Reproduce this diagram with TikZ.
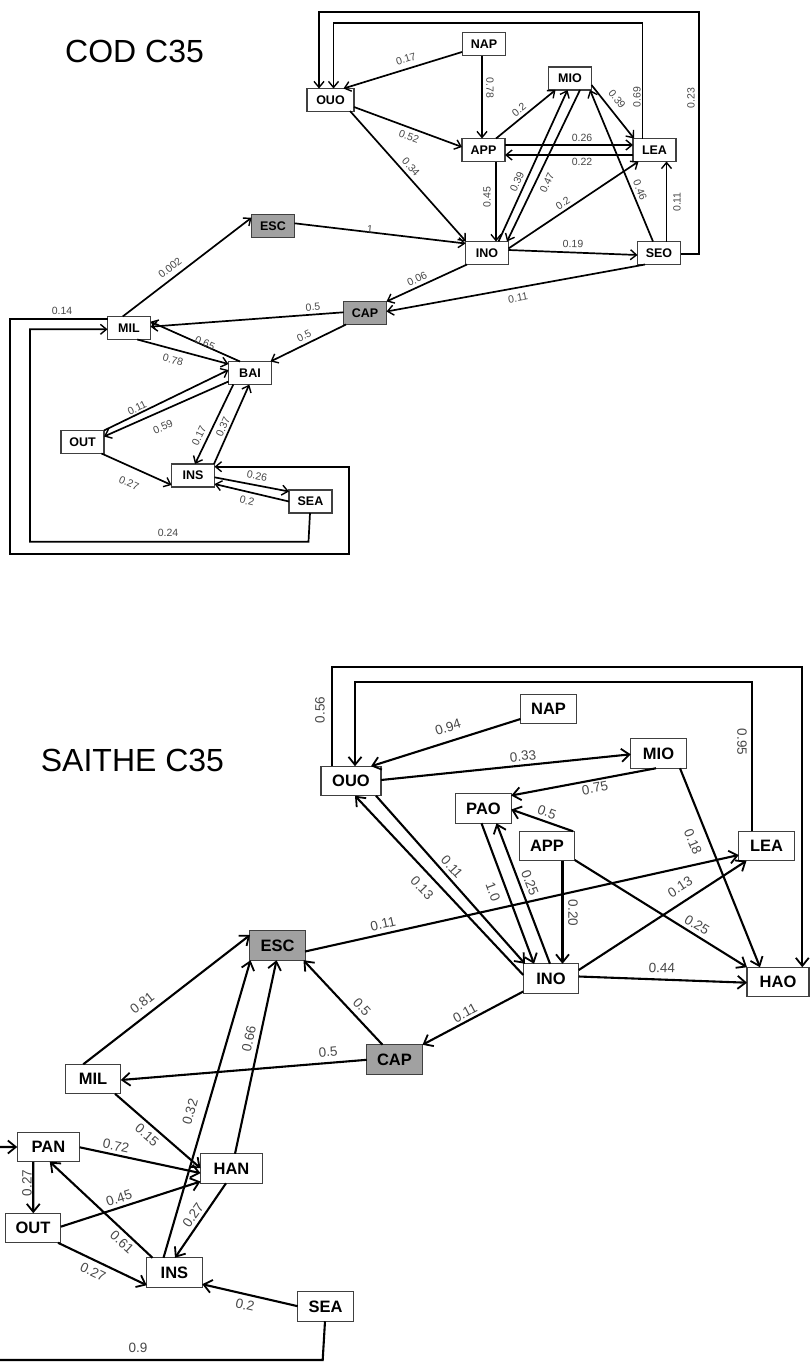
\documentclass[tikz,border=0pt]{standalone}
\usepackage{fontspec}
\setmainfont{Liberation Sans}
\usetikzlibrary{arrows.meta,calc}
\begin{document}
\begin{tikzpicture}[x=1pt,y=-1pt,
  box/.style={draw=black!75, line width=1.2pt, fill=white, inner sep=0pt,
    font=\bfseries\fontsize{12.5}{14}\selectfont, minimum width=43pt, minimum height=23pt},
  gbox/.style={box, fill=black!37},
  bbox/.style={draw=black!75, line width=1.4pt, fill=white, inner sep=0pt,
    font=\bfseries\fontsize{16.5}{18}\selectfont, minimum width=55.5pt, minimum height=29.5pt},
  gbbox/.style={bbox, fill=black!37},
  e/.style={line width=1.7pt, -{Straight Barb[length=6pt,width=10pt,line width=1.4pt]}},
  eb/.style={line width=2.1pt, -{Straight Barb[length=8pt,width=13pt,line width=1.8pt]}},
  lbl/.style={text=black!72, font=\fontsize{10.5}{12}\selectfont, inner sep=0pt},
  blbl/.style={text=black!72, font=\fontsize{13.5}{15}\selectfont, inner sep=0pt},
  ttl/.style={anchor=base west, inner sep=0pt, font=\fontsize{32}{36}\selectfont},
]
\useasboundingbox (0,0) rectangle (811,1365);
\clip (0,0) rectangle (811,1365);

% ================= COD C35 =================
\node[ttl] (codtitle) at (65,62.7) {COD C35};

\node[box] (cNAP) at (484,44) {NAP};
\node[box, minimum width=47pt] (cOUO) at (330.5,100) {OUO};
\node[box] (cMIO) at (570,78.5) {MIO};
\node[box] (cAPP) at (483.5,150) {APP};
\node[box] (cLEA) at (654.5,150) {LEA};
\node[box] (cINO) at (487,253) {INO};
\node[box] (cSEO) at (659,253) {SEO};
\node[gbox] (cESC) at (273,226) {ESC};
\node[gbox] (cCAP) at (365,313) {CAP};
\node[box] (cMIL) at (129,328) {MIL};
\node[box] (cBAI) at (250,373) {BAI};
\node[box] (cOUT) at (82.5,442) {OUT};
\node[box] (cINS) at (193,475.5) {INS};
\node[box] (cSEA) at (310.5,501.5) {SEA};

\draw[e] ($(cNAP)+(-22,8)$) -- ($(cOUO)+(13,-11.5)$) node[lbl,at={(406,59)},rotate=17]{0.17};
\draw[e] ($(cNAP)+(-2,11.5)$) -- ($(cAPP)+(-1.5,-11.5)$) node[lbl,at={(490,88)},rotate=-90]{0.78};
\draw[e] ($(cOUO)+(23.5,7)$) -- ($(cAPP)+(-21.5,-3)$) node[lbl,at={(409,137)},rotate=-20]{0.52};
\draw[e] ($(cOUO)+(19.5,11)$) -- ($(cINO)+(-21,-11.5)$) node[lbl,at={(411,167)},rotate=-48]{0.34};
\draw[e] ($(cAPP)+(12.5,-11.5)$) -- ($(cMIO)+(-14.5,11.5)$) node[lbl,at={(519,110)},rotate=39]{0.2};
\draw[e] ($(cAPP)+(21.5,-5)$) -- ($(cLEA)+(-21.5,-5)$) node[lbl,at={(582,138)}]{0.26};
\draw[e] ($(cLEA)+(-21.5,5)$) -- ($(cAPP)+(21.5,5)$) node[lbl,at={(582,162)}]{0.22};
\draw[e] ($(cAPP)+(12.5,11.5)$) -- ($(cINO)+(9,-11.5)$) node[lbl,at={(487,197)},rotate=90]{0.45};
\draw[e] ($(cINO)+(11.5,-11.5)$) -- ($(cMIO)+(-2.5,11.5)$) node[lbl,at={(517,182)},rotate=65.5]{0.39};
\draw[e] ($(cMIO)+(10,11.5)$) -- ($(cINO)+(20,-11.5)$) node[lbl,at={(547,183)},rotate=64.5]{0.47};
\draw[e] ($(cMIO)+(21.5,6.5)$) -- ($(cLEA)+(-20.5,-11.5)$) node[lbl,at={(617,99)},rotate=-51.5]{0.39};
\draw[e] ($(cINO)+(21.5,-4.5)$) -- ($(cLEA)+(-16,11.5)$) node[lbl,at={(563,203)},rotate=34]{0.2};
\draw[e] ($(cSEO)+(-6,-11.5)$) -- ($(cMIO)+(20,11.5)$) node[lbl,at={(640,190)},rotate=-67.5]{0.46};
\draw[e] ($(cSEO)+(7.5,-11.5)$) -- ($(cLEA)+(12,11.5)$) node[lbl,at={(677,202)},rotate=90]{0.11};
\draw[e] ($(cINO)+(21.5,-3)$) -- ($(cSEO)+(-21.5,2)$) node[lbl,at={(573,244)},rotate=-2]{0.19};
\draw[e] ($(cESC)+(21.5,-2.7)$) -- ($(cINO)+(-21.5,-9.5)$) node[lbl,at={(370,229)},rotate=-6]{1};
\draw[e] ($(cINO)+(-20,11.5)$) -- ($(cCAP)+(21.5,-11.5)$) node[lbl,at={(417,279)},rotate=26]{0.06};
\draw[e] ($(cSEO)+(-14,11.5)$) -- ($(cCAP)+(21.5,-1.5)$) node[lbl,at={(518,298)},rotate=10]{0.11};
\draw[e] ($(cCAP)+(-21.5,-0.7)$) -- ($(cMIL)+(21.5,-1.3)$) node[lbl,at={(313,307)},rotate=4]{0.5};
\draw[e] ($(cCAP)+(-19,11.5)$) -- ($(cBAI)+(20.5,-11.5)$) node[lbl,at={(304,336)},rotate=26]{0.5};
\draw[e] ($(cMIL)+(-6.3,-11.5)$) -- ($(cESC)+(-21.5,-8.3)$) node[lbl,at={(170,268)},rotate=38]{0.002};
\draw[e] ($(cMIL)+(8.3,11.5)$) -- ($(cBAI)+(-21.5,-9)$) node[lbl,at={(173,360)},rotate=-15]{0.78};
\draw[e] ($(cBAI)+(-10,-11.5)$) -- ($(cMIL)+(21.5,-6.3)$) node[lbl,at={(205,343)},rotate=-23.5]{0.65};
\draw[e] ($(cOUT)+(21.5,-11.5)$) -- ($(cBAI)+(-21.5,-3)$) node[lbl,at={(137,408)},rotate=26]{0.11};
\draw[e] ($(cBAI)+(-21.5,8.5)$) -- ($(cOUT)+(21.5,-5.5)$) node[lbl,at={(163,427)},rotate=24]{0.59};
\draw[e] ($(cBAI)+(-16.7,11.5)$) -- ($(cINS)+(2,-11.5)$) node[lbl,at={(199,436)},rotate=64]{0.17};
\draw[e] ($(cINS)+(21,-11.5)$) -- ($(cBAI)+(-0.7,11.5)$) node[lbl,at={(223,427)},rotate=66]{0.37};
\draw[e] ($(cOUT)+(19,11.5)$) -- ($(cINS)+(-21.5,9.5)$) node[lbl,at={(129,483)},rotate=-24]{0.27};
\draw[e] ($(cINS)+(21.5,1.8)$) -- ($(cSEA)+(-21.5,-10)$) node[lbl,at={(257,476)},rotate=-11]{0.26};
\draw[e] ($(cSEA)+(-21.5,0)$) -- ($(cINS)+(21.5,8.5)$) node[lbl,at={(247,501)},rotate=-13.5]{0.2};
% loops
\draw[e] ($(cSEO)+(21.5,1)$) -| (699.3,11.7) -| ($(cOUO)+(-11.5,-11.5)$) node[lbl,at={(691,98)},rotate=90]{0.23};
\draw[e] ($(cLEA)+(-12,-11.5)$) |- (333.5,23.3) -- ($(cOUO)+(3,-11.5)$) node[lbl,at={(637,97)},rotate=90]{0.69};
\draw[e] ($(cSEA)+(-0.5,11.5)$) -- (308.5,541.7) -| (30,329.3) -- ($(cMIL)+(-21.5,1.3)$) node[lbl,at={(168,533)}]{0.24};
\draw[e] ($(cMIL)+(-21.5,-8.7)$) -| (10,554) -| (349,466.7) -- ($(cINS)+(21.5,-8.8)$) node[lbl,at={(62,311)}]{0.14};

% ================= SAITHE C35 =================
\node[ttl] (saithetitle) at (40.7,771.7) {SAITHE C35};

\node[bbox] (sNAP) at (548.5,709) {NAP};
\node[bbox] (sMIO) at (658.5,753.5) {MIO};
\node[bbox, minimum width=60pt] (sOUO) at (351,781) {OUO};
\node[bbox] (sPAO) at (483.5,808.5) {PAO};
\node[bbox] (sAPP) at (547,846) {APP};
\node[bbox] (sLEA) at (766.5,846) {LEA};
\node[bbox] (sINO) at (551,978.5) {INO};
\node[bbox, minimum width=62pt] (sHAO) at (778,982) {HAO};
\node[gbbox] (sESC) at (277.5,945.5) {ESC};
\node[gbbox] (sCAP) at (394.5,1059.5) {CAP};
\node[bbox] (sMIL) at (93,1079) {MIL};
\node[bbox, minimum width=62.5pt] (sPAN) at (48.5,1147) {PAN};
\node[bbox, minimum width=62pt] (sHAN) at (231.5,1168.5) {HAN};
\node[bbox] (sOUT) at (33,1228) {OUT};
\node[bbox] (sINS) at (174.5,1272.5) {INS};
\node[bbox] (sSEA) at (325.5,1306.5) {SEA};

\draw[eb] ($(sNAP)+(-28,10)$) -- ($(sOUO)+(20,-14.75)$) node[blbl,at={(448,727)},rotate=17]{0.94};
\draw[eb] ($(sOUO)+(30,-1)$) -- ($(sMIO)+(-27.75,0.8)$) node[blbl,at={(523,756)},rotate=6]{0.33};
\draw[eb] ($(sMIO)+(-2.5,14.75)$) -- ($(sPAO)+(27.75,-13)$) node[blbl,at={(595,788)},rotate=10.7]{0.75};
\draw[eb] ($(sAPP)+(26,-14.75)$) -- ($(sPAO)+(27.75,1)$) node[blbl,at={(547,812)},rotate=-19.6]{0.5};
\draw[eb] ($(sPAO)+(-2,14.75)$) -- ($(sINO)+(-17,-14.75)$) node[blbl,at={(493,892)},rotate=-69.5]{1.0};
\draw[eb] ($(sINO)+(-1,-14.75)$) -- ($(sPAO)+(13,14.75)$) node[blbl,at={(530,883)},rotate=-69]{0.25};
\draw[eb] ($(sOUO)+(25,14.75)$) -- ($(sINO)+(-26,-14.75)$) node[blbl,at={(452,867)},rotate=-48]{0.11};
\draw[eb] ($(sINO)+(-27.75,-3.5)$) -- ($(sOUO)+(4,14.75)$) node[blbl,at={(422,888)},rotate=-46.5]{0.13};
\draw[eb] ($(sAPP)+(15.5,14.75)$) -- ($(sINO)+(11.5,-14.75)$) node[blbl,at={(573,913)},rotate=-90]{0.20};
\draw[eb] ($(sAPP)+(27.75,14)$) -- ($(sHAO)+(-31,-14.75)$) node[blbl,at={(697,925)},rotate=-31.6]{0.25};
\draw[eb] ($(sMIO)+(21.5,14.75)$) -- ($(sHAO)+(-18,-14.75)$) node[blbl,at={(693,842)},rotate=-67.5]{0.18};
\draw[eb] ($(sINO)+(27.75,-8.5)$) -- ($(sLEA)+(-20,14.75)$) node[blbl,at={(680,887)},rotate=33]{0.13};
\draw[eb] ($(sINO)+(27.75,-2)$) -- ($(sHAO)+(-31,0.7)$) node[blbl,at={(662,968)},rotate=-2]{0.44};
\draw[eb] ($(sESC)+(27.5,6)$) -- ($(sLEA)+(-27.75,9)$) node[blbl,at={(383,924)},rotate=12.6]{0.11};
\draw[eb] ($(sINO)+(-27.75,13)$) -- ($(sCAP)+(28,-14.75)$) node[blbl,at={(465,1013)},rotate=28]{0.11};
\draw[eb] ($(sCAP)+(-12,-14.75)$) -- ($(sESC)+(26,14.75)$) node[blbl,at={(362,1007)},rotate=-47]{0.5};
\draw[eb] ($(sCAP)+(-27.75,0.3)$) -- ($(sMIL)+(27.75,1)$) node[blbl,at={(328,1052)},rotate=4.7]{0.5};
\draw[eb] ($(sMIL)+(-9.7,-14.75)$) -- ($(sESC)+(-27.5,-10.5)$) node[blbl,at={(142,1003)},rotate=38]{0.81};
\draw[eb] ($(sMIL)+(22,14.75)$) -- ($(sHAN)+(-31,-0.3)$) node[blbl,at={(147,1135)},rotate=-41]{0.15};
\draw[eb] ($(sPAN)+(31.25,0.3)$) -- ($(sHAN)+(-31,4.6)$) node[blbl,at={(116,1146)},rotate=-12]{0.72};
\draw[eb] ($(sOUT)+(27.75,-1.3)$) -- ($(sHAN)+(-31,13)$) node[blbl,at={(119,1198)},rotate=18]{0.45};
\draw[eb] ($(sINS)+(-22,-14.75)$) -- ($(sPAN)+(1.3,14.75)$) node[blbl,at={(122,1242)},rotate=-42]{0.61};
\draw[eb] ($(sPAN)+(-15.3,14.75)$) -- ($(sOUT)+(0.3,-14.75)$) node[blbl,at={(27,1183)},rotate=90]{0.27};
\draw[eb] ($(sOUT)+(25,14.75)$) -- ($(sINS)+(-27.75,12.7)$) node[blbl,at={(93,1272)},rotate=-25.6]{0.27};
\draw[eb] ($(sINS)+(-11,-14.75)$) -- ($(sESC)+(-27,14.75)$) node[blbl,at={(190,1112)},rotate=74]{0.32};
\draw[eb] ($(sHAN)+(3.5,-14.75)$) -- ($(sESC)+(-1,14.75)$) node[blbl,at={(249,1039)},rotate=77.7]{0.66};
\draw[eb] ($(sHAN)+(-5.5,14.75)$) -- ($(sINS)+(0.5,-14.75)$) node[blbl,at={(193,1215)},rotate=55]{0.27};
\draw[eb] ($(sSEA)+(-27.75,-0.3)$) -- ($(sINS)+(27.75,11.7)$) node[blbl,at={(245,1305)},rotate=-13]{0.2};
% loops
\draw[eb] ($(sOUO)+(-18.7,-14.75)$) |- (802.3,667.3) -- ($(sHAO)+(24.3,-14.75)$) node[blbl,at={(320,710)},rotate=90]{0.56};
\draw[eb] ($(sLEA)+(-14.5,-14.75)$) |- (355,681.7) -- ($(sOUO)+(4,-14.75)$) node[blbl,at={(742,742)},rotate=-90]{0.95};
\draw[eb] ($(sSEA)+(-0.5,14.75)$) -- (322.7,1360) -- (-10,1360) -- (-10,1147) -- ($(sPAN)+(-31.25,0)$) node[blbl,at={(138,1348)}]{0.9};
\end{tikzpicture}
\end{document}
